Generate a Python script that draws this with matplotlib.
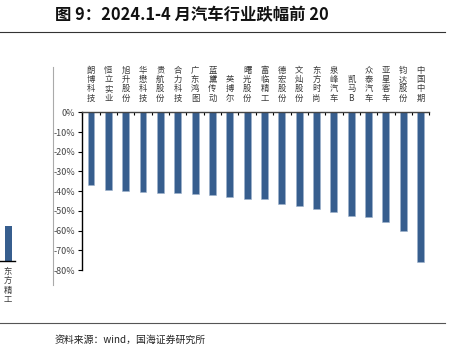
import matplotlib
matplotlib.use("Agg")
import matplotlib.pyplot as plt
from matplotlib.lines import Line2D
import numpy as np

plt.rcParams['font.family'] = ['Noto Sans CJK SC', 'DejaVu Sans']

categories = ["朗博科技", "恒立实业", "旭升股份", "华懋科技", "贵航股份", "合力科技",
              "广东鸿图", "蓝黛传动", "英搏尔", "曙光股份", "富临精工", "德宏股份",
              "文灿股份", "东方时尚", "泉峰汽车", "凯马B", "众泰汽车", "亚星客车",
              "钧达股份", "中国中期"]
values = [-36.7, -39.6, -39.9, -40.2, -40.8, -40.9, -41.3, -41.8, -42.8, -43.8,
          -43.8, -46.3, -47.3, -49.2, -50.4, -52.8, -52.9, -55.5, -60.4, -76.0]
yticks = [0, -10, -20, -30, -40, -50, -60, -70, -80]
ytick_labels = ["0%", "-10%", "-20%", "-30%", "-40%", "-50%", "-60%", "-70%", "-80%"]

frag_label = "东方精工"

W, H = 463, 353
fig = plt.figure(figsize=(W / 100, H / 100), dpi=100)

def rect(x0, y0, x1, y1):
    return [x0 / W, 1 - y1 / H, (x1 - x0) / W, (y1 - y0) / H]

bar_color = '#375E8E'
txt_color = '#3a3a3a'

ax = fig.add_axes(rect(82.3, 112.3, 429.3, 270))
x = np.arange(len(categories))
ax.bar(x, values, width=0.4, color=bar_color, edgecolor='#9FB3CC', linewidth=0.4)
ax.set_xlim(-0.5, len(categories) - 0.5)
ax.set_ylim(-80, 0)
ax.set_yticks(yticks)
ax.set_yticklabels(ytick_labels)
ax.tick_params(axis='y', direction='out', length=3, width=0.8, labelsize=6.5,
               labelcolor='#444444', pad=2)
for s in ['right', 'bottom']:
    ax.spines[s].set_visible(False)
ax.spines['left'].set_linewidth(1.0)
ax.spines['top'].set_linewidth(1.0)
ax.spines['top'].set_color('#444444')
ax.xaxis.tick_top()
ax.set_xticks(x)
ax.set_xticklabels(["\n".join(list(c)) if c != "凯马B" else "凯\n马\nB" for c in categories],
                   fontsize=6, color=txt_color, linespacing=1.05)
ax.tick_params(axis='x', which='major', length=0, pad=7)
ax.set_xticks(np.arange(-0.5, len(categories) + 0.5, 1), minor=True)
ax.tick_params(axis='x', which='minor', direction='in', length=2.5, width=0.8, top=True)

# left fragment from adjacent chart
axf = fig.add_axes(rect(0, 200, 15, 261))
axf.bar([0], [1], width=0.5, color=bar_color)
axf.set_xlim(-0.55, 0.45)
axf.set_ylim(0, 1.72)
for s in ['left', 'right', 'top']:
    axf.spines[s].set_visible(False)
axf.spines['bottom'].set_linewidth(1.0)
axf.set_yticks([])
axf.set_xticks([])
fig.text(8 / W, 1 - 267 / H, "\n".join(list(frag_label)), fontsize=6, color=txt_color,
         ha='center', va='top', linespacing=1.05)

fig.add_artist(Line2D([53 / W, 53 / W], [1 - 67 / H, 1 - 285 / H], color='#aaaaaa', lw=0.8))

fig.text(55 / W, 1 - 15 / H, "图 9：2024.1-4 月汽车行业跌幅前 20", fontsize=11.8,
         fontweight='bold', ha='left', va='center', color='#111111')
fig.add_artist(Line2D([0, 445 / W], [1 - 32 / H, 1 - 32 / H], color='#333333', lw=0.8))
fig.add_artist(Line2D([0, 445 / W], [1 - 323 / H, 1 - 323 / H], color='#555555', lw=0.8))
fig.text(55 / W, 1 - 340 / H, "资料来源：wind，国海证券研究所", fontsize=7.1,
         ha='left', va='center', color='#222222')

fig.savefig("out.png", dpi=100)
